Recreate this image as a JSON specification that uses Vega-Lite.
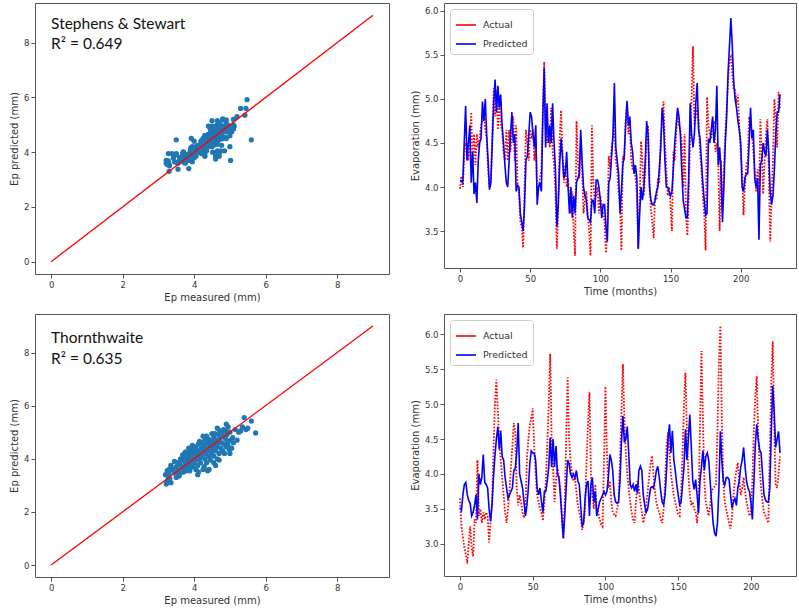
{
  "$schema": "https://vega.github.io/schema/vega-lite/v6.json",
  "padding": {"left": 9, "top": 2, "right": 2, "bottom": 2},
  "spacing": 10,
  "config": {
    "view": {"stroke": "#555", "strokeWidth": 1},
    "axis": {"grid": false, "domain": false, "tickColor": "#555", "tickSize": 4, "labelFont": "DejaVu Sans", "labelFontSize": 8.5, "labelColor": "#333", "labelPadding": 2, "titleFont": "DejaVu Sans", "titleFontSize": 10, "titleFontWeight": "normal", "titleColor": "#333", "titlePadding": 4, "labelFlush": false},
    "legend": {"labelFont": "DejaVu Sans", "labelFontSize": 9.5, "labelColor": "#333", "symbolType": "stroke", "symbolSize": 400, "symbolStrokeWidth": 1.6, "strokeColor": "#ccc", "fillColor": "white", "cornerRadius": 3, "padding": 5, "rowPadding": 3, "offset": 6, "labelOffset": 6}
  },
  "datasets": {
    "ss": [
{"m":0,"Actual":3.98,"Predicted":4.07},{"m":1,"Actual":4.12,"Predicted":4.07},{"m":2,"Actual":4.0,"Predicted":4.05},{"m":3,"Actual":4.35,"Predicted":4.5},{"m":4,"Actual":4.5,"Predicted":4.92},{"m":5,"Actual":4.45,"Predicted":4.3},{"m":6,"Actual":4.3,"Predicted":4.5},{"m":7,"Actual":4.5,"Predicted":4.7},{"m":8,"Actual":4.85,"Predicted":4.05},{"m":9,"Actual":4.2,"Predicted":4.4},
{"m":10,"Actual":4.6,"Predicted":3.92},{"m":11,"Actual":4.25,"Predicted":4.05},{"m":12,"Actual":4.6,"Predicted":3.82},{"m":13,"Actual":4.45,"Predicted":4.3},{"m":14,"Actual":4.55,"Predicted":4.5},{"m":15,"Actual":4.7,"Predicted":4.55},{"m":16,"Actual":4.75,"Predicted":4.97},{"m":17,"Actual":4.9,"Predicted":4.75},{"m":18,"Actual":4.65,"Predicted":5.0},{"m":19,"Actual":4.55,"Predicted":4.6},
{"m":20,"Actual":4.2,"Predicted":4.3},{"m":21,"Actual":4.0,"Predicted":3.97},{"m":22,"Actual":4.1,"Predicted":4.05},{"m":23,"Actual":4.6,"Predicted":4.5},{"m":24,"Actual":5.12,"Predicted":4.95},{"m":25,"Actual":4.8,"Predicted":5.22},{"m":26,"Actual":5.1,"Predicted":4.85},{"m":27,"Actual":4.65,"Predicted":5.15},{"m":28,"Actual":5.05,"Predicted":4.9},{"m":29,"Actual":4.7,"Predicted":5.05},
{"m":30,"Actual":4.65,"Predicted":4.7},{"m":31,"Actual":4.4,"Predicted":4.5},{"m":32,"Actual":4.3,"Predicted":4.25},{"m":33,"Actual":4.65,"Predicted":4.05},{"m":34,"Actual":4.3,"Predicted":4.0},{"m":35,"Actual":4.65,"Predicted":4.3},{"m":36,"Actual":4.4,"Predicted":4.6},{"m":37,"Actual":4.7,"Predicted":4.85},{"m":38,"Actual":4.8,"Predicted":4.5},{"m":39,"Actual":4.3,"Predicted":4.6},
{"m":40,"Actual":4.7,"Predicted":3.95},{"m":41,"Actual":4.0,"Predicted":4.02},{"m":42,"Actual":3.95,"Predicted":4.0},{"m":43,"Actual":3.6,"Predicted":3.7},{"m":44,"Actual":3.55,"Predicted":3.6},{"m":45,"Actual":3.31,"Predicted":3.5},{"m":46,"Actual":4.0,"Predicted":3.8},{"m":47,"Actual":4.65,"Predicted":4.3},{"m":48,"Actual":4.5,"Predicted":4.35},{"m":49,"Actual":4.3,"Predicted":4.6},
{"m":50,"Actual":4.65,"Predicted":4.85},{"m":51,"Actual":4.55,"Predicted":4.8},{"m":52,"Actual":4.65,"Predicted":4.6},{"m":53,"Actual":4.3,"Predicted":4.45},{"m":54,"Actual":4.5,"Predicted":4.7},{"m":55,"Actual":3.9,"Predicted":3.8},{"m":56,"Actual":4.0,"Predicted":4.0},{"m":57,"Actual":4.1,"Predicted":4.05},{"m":58,"Actual":4.2,"Predicted":3.95},{"m":59,"Actual":4.85,"Predicted":4.8},
{"m":60,"Actual":5.42,"Predicted":5.35},{"m":61,"Actual":4.7,"Predicted":4.45},{"m":62,"Actual":4.5,"Predicted":4.95},{"m":63,"Actual":4.65,"Predicted":4.5},{"m":64,"Actual":4.45,"Predicted":4.7},{"m":65,"Actual":4.9,"Predicted":4.5},{"m":66,"Actual":4.4,"Predicted":4.95},{"m":67,"Actual":4.25,"Predicted":4.5},{"m":68,"Actual":3.95,"Predicted":4.2},{"m":69,"Actual":3.3,"Predicted":3.55},
{"m":70,"Actual":3.75,"Predicted":3.8},{"m":71,"Actual":4.55,"Predicted":4.25},{"m":72,"Actual":4.87,"Predicted":4.55},{"m":73,"Actual":4.4,"Predicted":4.35},{"m":74,"Actual":4.05,"Predicted":4.1},{"m":75,"Actual":4.25,"Predicted":4.15},{"m":76,"Actual":4.0,"Predicted":4.4},{"m":77,"Actual":4.1,"Predicted":4.0},{"m":78,"Actual":3.8,"Predicted":3.7},{"m":79,"Actual":3.7,"Predicted":4.0},
{"m":80,"Actual":3.95,"Predicted":3.65},{"m":81,"Actual":3.5,"Predicted":3.9},{"m":82,"Actual":3.22,"Predicted":3.7},{"m":83,"Actual":4.75,"Predicted":4.05},{"m":84,"Actual":4.3,"Predicted":4.1},{"m":85,"Actual":4.1,"Predicted":4.15},{"m":86,"Actual":4.5,"Predicted":4.65},{"m":87,"Actual":4.2,"Predicted":4.3},{"m":88,"Actual":3.7,"Predicted":4.0},{"m":89,"Actual":3.85,"Predicted":3.9},
{"m":90,"Actual":3.95,"Predicted":3.85},{"m":91,"Actual":3.7,"Predicted":3.65},{"m":92,"Actual":3.5,"Predicted":3.63},{"m":93,"Actual":3.22,"Predicted":3.6},{"m":94,"Actual":4.7,"Predicted":3.85},{"m":95,"Actual":4.05,"Predicted":3.85},{"m":96,"Actual":3.85,"Predicted":3.7},{"m":97,"Actual":3.9,"Predicted":4.08},{"m":98,"Actual":4.0,"Predicted":4.08},{"m":99,"Actual":3.7,"Predicted":4.0},
{"m":100,"Actual":3.9,"Predicted":3.85},{"m":101,"Actual":3.75,"Predicted":3.65},{"m":102,"Actual":3.7,"Predicted":3.8},{"m":103,"Actual":3.6,"Predicted":3.8},{"m":104,"Actual":3.25,"Predicted":3.55},{"m":105,"Actual":3.55,"Predicted":3.38},{"m":106,"Actual":4.35,"Predicted":4.05},{"m":107,"Actual":4.2,"Predicted":4.1},{"m":108,"Actual":4.45,"Predicted":4.35},{"m":109,"Actual":4.55,"Predicted":4.6},
{"m":110,"Actual":4.8,"Predicted":5.18},{"m":111,"Actual":4.3,"Predicted":4.45},{"m":112,"Actual":4.2,"Predicted":4.3},{"m":113,"Actual":3.95,"Predicted":4.15},{"m":114,"Actual":3.85,"Predicted":3.7},{"m":115,"Actual":3.28,"Predicted":3.95},{"m":116,"Actual":4.35,"Predicted":4.25},{"m":117,"Actual":4.3,"Predicted":4.35},{"m":118,"Actual":4.75,"Predicted":4.7},{"m":119,"Actual":4.95,"Predicted":4.98},
{"m":120,"Actual":4.6,"Predicted":4.7},{"m":121,"Actual":4.75,"Predicted":4.8},{"m":122,"Actual":4.3,"Predicted":4.5},{"m":123,"Actual":4.2,"Predicted":4.4},{"m":124,"Actual":4.25,"Predicted":4.15},{"m":125,"Actual":4.1,"Predicted":4.25},{"m":126,"Actual":3.95,"Predicted":4.1},{"m":127,"Actual":3.3,"Predicted":3.3},{"m":128,"Actual":3.85,"Predicted":3.7},{"m":129,"Actual":4.52,"Predicted":4.0},
{"m":130,"Actual":4.3,"Predicted":3.85},{"m":131,"Actual":3.9,"Predicted":4.0},{"m":132,"Actual":4.2,"Predicted":4.3},{"m":133,"Actual":4.6,"Predicted":4.75},{"m":134,"Actual":4.7,"Predicted":4.6},{"m":135,"Actual":4.1,"Predicted":4.0},{"m":136,"Actual":3.75,"Predicted":3.85},{"m":137,"Actual":3.6,"Predicted":3.8},{"m":138,"Actual":3.42,"Predicted":3.8},{"m":139,"Actual":3.9,"Predicted":3.85},
{"m":140,"Actual":3.85,"Predicted":3.95},{"m":141,"Actual":4.1,"Predicted":4.0},{"m":142,"Actual":4.05,"Predicted":4.2},{"m":143,"Actual":4.55,"Predicted":4.45},{"m":144,"Actual":4.7,"Predicted":4.9},{"m":145,"Actual":4.97,"Predicted":4.75},{"m":146,"Actual":4.5,"Predicted":4.3},{"m":147,"Actual":4.2,"Predicted":4.0},{"m":148,"Actual":3.9,"Predicted":4.0},{"m":149,"Actual":4.0,"Predicted":3.95},
{"m":150,"Actual":3.8,"Predicted":3.9},{"m":151,"Actual":3.5,"Predicted":3.95},{"m":152,"Actual":4.4,"Predicted":4.2},{"m":153,"Actual":4.3,"Predicted":4.5},{"m":154,"Actual":4.6,"Predicted":4.7},{"m":155,"Actual":4.85,"Predicted":4.9},{"m":156,"Actual":4.7,"Predicted":4.8},{"m":157,"Actual":4.65,"Predicted":4.6},{"m":158,"Actual":4.5,"Predicted":4.2},{"m":159,"Actual":4.0,"Predicted":3.85},
{"m":160,"Actual":4.6,"Predicted":3.75},{"m":161,"Actual":3.7,"Predicted":3.65},{"m":162,"Actual":3.45,"Predicted":3.65},{"m":163,"Actual":3.9,"Predicted":4.15},{"m":164,"Actual":4.6,"Predicted":4.95},{"m":165,"Actual":5.0,"Predicted":4.6},{"m":166,"Actual":5.6,"Predicted":4.45},{"m":167,"Actual":4.7,"Predicted":4.6},{"m":168,"Actual":4.8,"Predicted":4.95},{"m":169,"Actual":4.9,"Predicted":5.18},
{"m":170,"Actual":4.75,"Predicted":4.65},{"m":171,"Actual":4.4,"Predicted":4.55},{"m":172,"Actual":4.2,"Predicted":4.3},{"m":173,"Actual":3.9,"Predicted":4.05},{"m":174,"Actual":3.7,"Predicted":3.85},{"m":175,"Actual":3.28,"Predicted":3.68},{"m":176,"Actual":5.02,"Predicted":3.7},{"m":177,"Actual":4.7,"Predicted":4.55},{"m":178,"Actual":4.6,"Predicted":4.5},{"m":179,"Actual":4.55,"Predicted":4.65},
{"m":180,"Actual":4.7,"Predicted":4.8},{"m":181,"Actual":4.75,"Predicted":4.5},{"m":182,"Actual":4.4,"Predicted":4.65},{"m":183,"Actual":4.5,"Predicted":5.15},{"m":184,"Actual":4.3,"Predicted":4.25},{"m":185,"Actual":3.5,"Predicted":4.45},{"m":186,"Actual":4.3,"Predicted":4.15},{"m":187,"Actual":3.75,"Predicted":3.6},{"m":188,"Actual":4.2,"Predicted":4.0},{"m":189,"Actual":4.6,"Predicted":4.5},
{"m":190,"Actual":4.9,"Predicted":4.8},{"m":191,"Actual":5.2,"Predicted":5.3},{"m":192,"Actual":5.45,"Predicted":5.6},{"m":193,"Actual":5.48,"Predicted":5.92},{"m":194,"Actual":5.3,"Predicted":5.6},{"m":195,"Actual":5.1,"Predicted":5.2},{"m":196,"Actual":5.1,"Predicted":5.0},{"m":197,"Actual":4.95,"Predicted":4.9},{"m":198,"Actual":5.05,"Predicted":4.75},{"m":199,"Actual":4.7,"Predicted":4.65},
{"m":200,"Actual":4.4,"Predicted":4.5},{"m":201,"Actual":4.2,"Predicted":4.0},{"m":202,"Actual":3.68,"Predicted":3.95},{"m":203,"Actual":4.0,"Predicted":4.1},{"m":204,"Actual":4.25,"Predicted":4.15},{"m":205,"Actual":4.3,"Predicted":4.15},{"m":206,"Actual":4.8,"Predicted":4.5},{"m":207,"Actual":4.7,"Predicted":4.9},{"m":208,"Actual":4.6,"Predicted":4.55},{"m":209,"Actual":4.4,"Predicted":4.65},
{"m":210,"Actual":4.2,"Predicted":4.1},{"m":211,"Actual":3.95,"Predicted":4.0},{"m":212,"Actual":4.2,"Predicted":4.1},{"m":213,"Actual":3.85,"Predicted":3.4},{"m":214,"Actual":4.77,"Predicted":4.25},{"m":215,"Actual":4.4,"Predicted":4.3},{"m":216,"Actual":3.92,"Predicted":4.5},{"m":217,"Actual":4.3,"Predicted":4.4},{"m":218,"Actual":4.6,"Predicted":4.35},{"m":219,"Actual":4.77,"Predicted":4.65},
{"m":220,"Actual":4.2,"Predicted":4.4},{"m":221,"Actual":3.38,"Predicted":3.95},{"m":222,"Actual":3.9,"Predicted":3.8},{"m":223,"Actual":4.3,"Predicted":3.9},{"m":224,"Actual":5.0,"Predicted":4.2},{"m":225,"Actual":4.75,"Predicted":4.6},{"m":226,"Actual":4.45,"Predicted":4.85},{"m":227,"Actual":5.08,"Predicted":4.85},{"m":228,"Actual":4.9,"Predicted":5.05}
    ],
    "th": [
{"m":0,"Actual":3.65,"Predicted":3.52},{"m":1,"Actual":3.25,"Predicted":3.48},{"m":2,"Actual":3.1,"Predicted":3.7},{"m":3,"Actual":2.95,"Predicted":3.85},{"m":4,"Actual":2.85,"Predicted":3.88},{"m":5,"Actual":2.72,"Predicted":3.7},{"m":6,"Actual":3.0,"Predicted":3.62},{"m":7,"Actual":3.25,"Predicted":3.58},{"m":8,"Actual":2.95,"Predicted":3.4},{"m":9,"Actual":2.82,"Predicted":3.45},
{"m":10,"Actual":3.35,"Predicted":3.55},{"m":11,"Actual":3.3,"Predicted":3.7},{"m":12,"Actual":4.2,"Predicted":3.35},{"m":13,"Actual":3.4,"Predicted":4.0},{"m":14,"Actual":3.5,"Predicted":3.85},{"m":15,"Actual":3.3,"Predicted":3.95},{"m":16,"Actual":3.45,"Predicted":4.28},{"m":17,"Actual":3.35,"Predicted":3.88},{"m":18,"Actual":3.45,"Predicted":3.85},{"m":19,"Actual":3.4,"Predicted":3.8},
{"m":20,"Actual":3.02,"Predicted":3.5},{"m":21,"Actual":3.3,"Predicted":3.32},{"m":22,"Actual":3.6,"Predicted":3.55},{"m":23,"Actual":4.3,"Predicted":3.95},{"m":24,"Actual":5.0,"Predicted":4.25},{"m":25,"Actual":5.35,"Predicted":4.5},{"m":26,"Actual":4.9,"Predicted":4.68},{"m":27,"Actual":4.5,"Predicted":4.35},{"m":28,"Actual":4.2,"Predicted":4.62},{"m":29,"Actual":3.95,"Predicted":4.25},
{"m":30,"Actual":3.7,"Predicted":4.2},{"m":31,"Actual":3.45,"Predicted":3.95},{"m":32,"Actual":3.3,"Predicted":3.8},{"m":33,"Actual":3.5,"Predicted":3.65},{"m":34,"Actual":3.75,"Predicted":3.7},{"m":35,"Actual":4.1,"Predicted":3.75},{"m":36,"Actual":4.4,"Predicted":3.8},{"m":37,"Actual":4.73,"Predicted":4.05},{"m":38,"Actual":4.6,"Predicted":4.08},{"m":39,"Actual":3.8,"Predicted":4.3},
{"m":40,"Actual":3.55,"Predicted":4.73},{"m":41,"Actual":3.7,"Predicted":4.0},{"m":42,"Actual":3.6,"Predicted":3.9},{"m":43,"Actual":3.45,"Predicted":3.8},{"m":44,"Actual":3.37,"Predicted":3.6},{"m":45,"Actual":3.5,"Predicted":3.4},{"m":46,"Actual":4.2,"Predicted":3.55},{"m":47,"Actual":4.5,"Predicted":3.8},{"m":48,"Actual":4.7,"Predicted":4.15},{"m":49,"Actual":4.8,"Predicted":4.33},
{"m":50,"Actual":4.94,"Predicted":4.3},{"m":51,"Actual":4.4,"Predicted":4.3},{"m":52,"Actual":4.0,"Predicted":4.2},{"m":53,"Actual":3.7,"Predicted":3.8},{"m":54,"Actual":3.6,"Predicted":3.7},{"m":55,"Actual":3.5,"Predicted":3.8},{"m":56,"Actual":3.45,"Predicted":3.6},{"m":57,"Actual":3.33,"Predicted":3.45},{"m":58,"Actual":3.6,"Predicted":3.75},{"m":59,"Actual":3.9,"Predicted":3.75},
{"m":60,"Actual":4.4,"Predicted":3.9},{"m":61,"Actual":5.0,"Predicted":4.1},{"m":62,"Actual":5.72,"Predicted":4.52},{"m":63,"Actual":4.5,"Predicted":4.1},{"m":64,"Actual":4.1,"Predicted":4.5},{"m":65,"Actual":3.6,"Predicted":4.1},{"m":66,"Actual":3.9,"Predicted":4.4},{"m":67,"Actual":4.1,"Predicted":4.0},{"m":68,"Actual":3.95,"Predicted":3.95},{"m":69,"Actual":3.8,"Predicted":3.7},
{"m":70,"Actual":3.4,"Predicted":3.4},{"m":71,"Actual":3.07,"Predicted":3.08},{"m":72,"Actual":3.6,"Predicted":3.4},{"m":73,"Actual":4.5,"Predicted":3.8},{"m":74,"Actual":5.38,"Predicted":4.2},{"m":75,"Actual":4.5,"Predicted":4.15},{"m":76,"Actual":4.2,"Predicted":4.0},{"m":77,"Actual":4.0,"Predicted":3.95},{"m":78,"Actual":3.9,"Predicted":4.0},{"m":79,"Actual":3.95,"Predicted":3.95},
{"m":80,"Actual":3.75,"Predicted":4.05},{"m":81,"Actual":3.55,"Predicted":3.9},{"m":82,"Actual":3.45,"Predicted":3.85},{"m":83,"Actual":3.35,"Predicted":3.55},{"m":84,"Actual":3.2,"Predicted":3.25},{"m":85,"Actual":3.3,"Predicted":3.3},{"m":86,"Actual":3.5,"Predicted":3.65},{"m":87,"Actual":4.2,"Predicted":3.85},{"m":88,"Actual":4.7,"Predicted":3.9},{"m":89,"Actual":5.17,"Predicted":3.4},
{"m":90,"Actual":4.0,"Predicted":3.85},{"m":91,"Actual":3.7,"Predicted":3.95},{"m":92,"Actual":3.5,"Predicted":3.6},{"m":93,"Actual":3.85,"Predicted":3.75},{"m":94,"Actual":3.5,"Predicted":3.4},{"m":95,"Actual":3.45,"Predicted":3.5},{"m":96,"Actual":3.35,"Predicted":3.6},{"m":97,"Actual":3.28,"Predicted":3.65},{"m":98,"Actual":3.25,"Predicted":3.7},{"m":99,"Actual":4.2,"Predicted":3.75},
{"m":100,"Actual":5.25,"Predicted":3.7},{"m":101,"Actual":4.3,"Predicted":3.75},{"m":102,"Actual":3.8,"Predicted":3.95},{"m":103,"Actual":3.9,"Predicted":4.28},{"m":104,"Actual":3.6,"Predicted":4.2},{"m":105,"Actual":3.45,"Predicted":4.05},{"m":106,"Actual":3.42,"Predicted":3.7},{"m":107,"Actual":3.4,"Predicted":3.6},{"m":108,"Actual":3.5,"Predicted":3.58},{"m":109,"Actual":3.6,"Predicted":3.6},
{"m":110,"Actual":4.2,"Predicted":3.9},{"m":111,"Actual":4.9,"Predicted":4.45},{"m":112,"Actual":5.57,"Predicted":4.83},{"m":113,"Actual":4.8,"Predicted":4.45},{"m":114,"Actual":4.3,"Predicted":4.5},{"m":115,"Actual":4.0,"Predicted":4.68},{"m":116,"Actual":3.8,"Predicted":4.3},{"m":117,"Actual":3.6,"Predicted":3.85},{"m":118,"Actual":3.45,"Predicted":3.8},{"m":119,"Actual":3.35,"Predicted":3.85},
{"m":120,"Actual":3.3,"Predicted":3.75},{"m":121,"Actual":3.6,"Predicted":3.85},{"m":122,"Actual":3.9,"Predicted":3.72},{"m":123,"Actual":3.8,"Predicted":4.05},{"m":124,"Actual":3.6,"Predicted":4.11},{"m":125,"Actual":3.45,"Predicted":4.05},{"m":126,"Actual":3.3,"Predicted":3.7},{"m":127,"Actual":3.4,"Predicted":3.55},{"m":128,"Actual":3.55,"Predicted":3.45},{"m":129,"Actual":3.75,"Predicted":3.5},
{"m":130,"Actual":3.95,"Predicted":3.65},{"m":131,"Actual":4.15,"Predicted":3.8},{"m":132,"Actual":4.26,"Predicted":3.82},{"m":133,"Actual":4.0,"Predicted":3.8},{"m":134,"Actual":3.75,"Predicted":3.9},{"m":135,"Actual":3.6,"Predicted":4.05},{"m":136,"Actual":3.5,"Predicted":4.11},{"m":137,"Actual":3.45,"Predicted":3.95},{"m":138,"Actual":3.35,"Predicted":3.75},{"m":139,"Actual":3.3,"Predicted":3.6},
{"m":140,"Actual":3.5,"Predicted":3.56},{"m":141,"Actual":3.9,"Predicted":3.7},{"m":142,"Actual":4.4,"Predicted":4.05},{"m":143,"Actual":4.6,"Predicted":4.5},{"m":144,"Actual":4.3,"Predicted":4.71},{"m":145,"Actual":4.0,"Predicted":4.3},{"m":146,"Actual":3.85,"Predicted":4.62},{"m":147,"Actual":3.7,"Predicted":4.2},{"m":148,"Actual":3.6,"Predicted":4.05},{"m":149,"Actual":3.5,"Predicted":3.85},
{"m":150,"Actual":3.42,"Predicted":3.7},{"m":151,"Actual":3.4,"Predicted":3.56},{"m":152,"Actual":3.7,"Predicted":3.6},{"m":153,"Actual":4.3,"Predicted":3.85},{"m":154,"Actual":5.0,"Predicted":4.1},{"m":155,"Actual":5.45,"Predicted":4.64},{"m":156,"Actual":4.6,"Predicted":4.2},{"m":157,"Actual":4.0,"Predicted":4.5},{"m":158,"Actual":3.7,"Predicted":4.85},{"m":159,"Actual":3.55,"Predicted":4.4},
{"m":160,"Actual":3.6,"Predicted":3.9},{"m":161,"Actual":3.5,"Predicted":3.78},{"m":162,"Actual":3.45,"Predicted":3.92},{"m":163,"Actual":3.3,"Predicted":3.7},{"m":164,"Actual":3.6,"Predicted":3.44},{"m":165,"Actual":4.7,"Predicted":3.9},{"m":166,"Actual":5.76,"Predicted":4.1},{"m":167,"Actual":4.8,"Predicted":4.33},{"m":168,"Actual":3.9,"Predicted":4.05},{"m":169,"Actual":3.6,"Predicted":4.25},
{"m":170,"Actual":3.5,"Predicted":4.3},{"m":171,"Actual":3.4,"Predicted":4.2},{"m":172,"Actual":3.55,"Predicted":3.89},{"m":173,"Actual":3.75,"Predicted":3.6},{"m":174,"Actual":3.8,"Predicted":3.3},{"m":175,"Actual":3.82,"Predicted":3.16},{"m":176,"Actual":3.85,"Predicted":3.11},{"m":177,"Actual":4.6,"Predicted":3.3},{"m":178,"Actual":5.6,"Predicted":3.8},{"m":179,"Actual":6.12,"Predicted":4.61},
{"m":180,"Actual":4.8,"Predicted":4.2},{"m":181,"Actual":3.9,"Predicted":3.9},{"m":182,"Actual":3.6,"Predicted":3.84},{"m":183,"Actual":3.5,"Predicted":3.95},{"m":184,"Actual":3.4,"Predicted":3.95},{"m":185,"Actual":3.3,"Predicted":3.92},{"m":186,"Actual":3.22,"Predicted":3.7},{"m":187,"Actual":3.4,"Predicted":3.51},{"m":188,"Actual":3.7,"Predicted":3.6},{"m":189,"Actual":3.9,"Predicted":3.65},
{"m":190,"Actual":4.05,"Predicted":3.55},{"m":191,"Actual":4.16,"Predicted":3.8},{"m":192,"Actual":3.9,"Predicted":3.9},{"m":193,"Actual":3.7,"Predicted":4.1},{"m":194,"Actual":3.8,"Predicted":4.2},{"m":195,"Actual":3.95,"Predicted":4.38},{"m":196,"Actual":3.75,"Predicted":4.1},{"m":197,"Actual":3.6,"Predicted":3.9},{"m":198,"Actual":3.5,"Predicted":3.8},{"m":199,"Actual":3.4,"Predicted":3.75},
{"m":200,"Actual":3.45,"Predicted":3.6},{"m":201,"Actual":3.9,"Predicted":3.35},{"m":202,"Actual":4.6,"Predicted":3.85},{"m":203,"Actual":5.1,"Predicted":4.4},{"m":204,"Actual":5.4,"Predicted":4.71},{"m":205,"Actual":4.6,"Predicted":4.5},{"m":206,"Actual":4.1,"Predicted":4.35},{"m":207,"Actual":3.8,"Predicted":4.3},{"m":208,"Actual":3.6,"Predicted":4.0},{"m":209,"Actual":3.45,"Predicted":3.7},
{"m":210,"Actual":3.4,"Predicted":3.63},{"m":211,"Actual":3.35,"Predicted":3.6},{"m":212,"Actual":3.3,"Predicted":3.6},{"m":213,"Actual":4.3,"Predicted":3.8},{"m":214,"Actual":5.3,"Predicted":4.6},{"m":215,"Actual":5.9,"Predicted":5.26},{"m":216,"Actual":4.7,"Predicted":4.9},{"m":217,"Actual":3.85,"Predicted":4.38},{"m":218,"Actual":3.8,"Predicted":4.5},{"m":219,"Actual":4.0,"Predicted":4.61},
{"m":220,"Actual":4.25,"Predicted":4.3}
    ],
    "thsc": [
{"x":3.22,"y":3.05},{"x":3.25,"y":3.15},{"x":3.2,"y":3.4},{"x":3.25,"y":3.55},{"x":3.3,"y":3.45},{"x":3.28,"y":3.3},{"x":3.35,"y":3.1},{"x":3.4,"y":3.6},{"x":3.45,"y":3.5},{"x":3.35,"y":3.75},
{"x":3.5,"y":3.3},{"x":3.5,"y":3.7},{"x":3.55,"y":3.55},{"x":3.6,"y":3.8},{"x":3.6,"y":3.45},{"x":3.65,"y":3.65},{"x":3.65,"y":3.95},{"x":3.7,"y":3.7},{"x":3.7,"y":3.5},{"x":3.72,"y":4.05},
{"x":3.75,"y":3.85},{"x":3.75,"y":3.6},{"x":3.8,"y":4.0},{"x":3.8,"y":3.75},{"x":3.82,"y":4.2},{"x":3.85,"y":3.9},{"x":3.85,"y":3.65},{"x":3.88,"y":4.1},{"x":3.9,"y":3.8},{"x":3.9,"y":4.3},
{"x":3.92,"y":3.95},{"x":3.95,"y":4.15},{"x":3.95,"y":3.7},{"x":3.98,"y":4.35},{"x":4.0,"y":4.0},{"x":4.0,"y":3.85},{"x":4.02,"y":4.25},{"x":4.05,"y":4.45},{"x":4.05,"y":3.95},{"x":4.08,"y":4.1},
{"x":4.1,"y":3.4},{"x":4.1,"y":3.75},{"x":4.1,"y":4.3},{"x":4.12,"y":4.55},{"x":4.15,"y":4.0},{"x":4.15,"y":4.2},{"x":4.18,"y":3.85},{"x":4.2,"y":4.4},{"x":4.2,"y":4.6},{"x":4.22,"y":4.1},
{"x":4.25,"y":3.6},{"x":4.25,"y":4.3},{"x":4.28,"y":4.5},{"x":4.3,"y":4.0},{"x":4.3,"y":4.7},{"x":4.32,"y":4.2},{"x":4.35,"y":4.4},{"x":4.35,"y":3.85},{"x":4.38,"y":4.6},{"x":4.4,"y":4.1},
{"x":4.4,"y":4.75},{"x":4.42,"y":4.3},{"x":4.45,"y":3.95},{"x":4.45,"y":4.5},{"x":4.48,"y":4.25},{"x":4.5,"y":4.65},{"x":4.5,"y":4.95},{"x":4.52,"y":4.4},{"x":4.55,"y":4.1},{"x":4.55,"y":4.8},
{"x":4.58,"y":4.55},{"x":4.6,"y":4.3},{"x":4.6,"y":3.75},{"x":4.62,"y":4.7},{"x":4.65,"y":4.45},{"x":4.65,"y":5.15},{"x":4.68,"y":4.9},{"x":4.7,"y":4.2},{"x":4.7,"y":4.6},{"x":4.72,"y":4.75},
{"x":4.75,"y":4.4},{"x":4.75,"y":5.0},{"x":4.78,"y":4.6},{"x":4.8,"y":4.85},{"x":4.8,"y":4.3},{"x":4.82,"y":5.1},{"x":4.85,"y":4.55},{"x":4.88,"y":4.75},{"x":4.9,"y":5.3},{"x":4.9,"y":4.45},
{"x":4.92,"y":4.9},{"x":4.95,"y":4.65},{"x":4.95,"y":5.2},{"x":4.98,"y":4.35},{"x":5.0,"y":5.0},{"x":5.05,"y":4.4},{"x":5.08,"y":4.8},{"x":5.1,"y":4.6},{"x":5.15,"y":5.1},{"x":5.2,"y":4.7},
{"x":5.25,"y":5.0},{"x":5.3,"y":5.05},{"x":5.35,"y":5.2},{"x":5.4,"y":5.55},{"x":5.45,"y":5.1},{"x":5.5,"y":5.15},{"x":5.6,"y":5.42},{"x":5.72,"y":4.97},
{"x":3.55,"y":3.85},{"x":3.68,"y":4.15},{"x":3.78,"y":3.55},{"x":3.95,"y":4.5},{"x":4.0,"y":4.4},{"x":4.05,"y":3.6},{"x":4.15,"y":4.65},{"x":4.28,"y":3.7},{"x":4.35,"y":4.85},{"x":4.42,"y":3.6},
{"x":4.5,"y":4.15},{"x":4.58,"y":4.95},{"x":4.65,"y":4.0},{"x":4.72,"y":5.05},{"x":4.85,"y":4.2},{"x":4.95,"y":4.5},{"x":5.0,"y":4.2},{"x":3.3,"y":3.6},{"x":3.45,"y":3.9},{"x":3.58,"y":3.35},
{"x":3.85,"y":4.4},{"x":4.25,"y":4.85},{"x":4.45,"y":4.55},{"x":4.62,"y":4.5},{"x":4.78,"y":4.95},{"x":4.88,"y":5.05},{"x":5.02,"y":4.7},{"x":3.32,"y":3.25},{"x":3.48,"y":3.45},{"x":3.62,"y":4.0},
{"x":3.75,"y":4.25},{"x":3.88,"y":3.55},{"x":4.12,"y":3.5},{"x":4.38,"y":3.55},{"x":4.55,"y":3.85},{"x":4.7,"y":3.95}
    ],
    "diag": [{"v":0},{"v":9}]
  },
  "vconcat": [
    {
      "spacing": 19,
      "resolve": {"scale": {"color": "independent"}, "legend": {"color": "independent"}},
      "hconcat": [
        {
          "width": 354, "height": 271,
          "layer": [
            {"data": {"name": "ss"}, "mark": {"type": "circle", "size": 28, "opacity": 1, "color": "#1f77b4"},
             "encoding": {
               "x": {"field": "Actual", "type": "quantitative", "scale": {"domain": [-0.45, 9.45], "nice": false, "zero": false}, "axis": {"values": [0, 2, 4, 6, 8], "title": "Ep measured (mm)"}},
               "y": {"field": "Predicted", "type": "quantitative", "scale": {"domain": [-0.45, 9.45], "nice": false, "zero": false}, "axis": {"values": [0, 2, 4, 6, 8], "title": "Ep predicted (mm)"}}}},
            {"data": {"name": "diag"}, "mark": {"type": "line", "color": "#ff0000", "strokeWidth": 1.3},
             "encoding": {"x": {"field": "v", "type": "quantitative", "title": "Ep measured (mm)"}, "y": {"field": "v", "type": "quantitative", "title": "Ep predicted (mm)"}}},
            {"data": {"values": [{"x": 0.0, "y": 8.5, "t": "Stephens & Stewart"}, {"x": 0.0, "y": 7.77, "t": "R² = 0.649"}]},
             "mark": {"type": "text", "align": "left", "baseline": "alphabetic", "font": "Lato", "fontSize": 15.5, "color": "#111"},
             "encoding": {"x": {"field": "x", "type": "quantitative", "title": "Ep measured (mm)"}, "y": {"field": "y", "type": "quantitative", "title": "Ep predicted (mm)"}, "text": {"field": "t"}}}
          ]
        },
        {
          "width": 352, "height": 265,
          "data": {"name": "ss"},
          "encoding": {
            "x": {"field": "m", "type": "quantitative", "scale": {"domain": [-11.4, 239.4], "nice": false, "zero": false}, "axis": {"values": [0, 50, 100, 150, 200], "title": "Time (months)"}}
          },
          "layer": [
            {"mark": {"type": "line", "strokeWidth": 1.8, "strokeDash": [1.6, 1.6]},
             "encoding": {
               "y": {"field": "Actual", "type": "quantitative", "scale": {"domain": [3.08, 6.09], "nice": false, "zero": false}, "axis": {"values": [3.5, 4.0, 4.5, 5.0, 5.5, 6.0], "format": ".1f", "title": "Evaporation (mm)"}},
               "color": {"datum": "Actual", "scale": {"domain": ["Actual", "Predicted"], "range": ["#ff0000", "#0000ff"]}, "legend": {"title": null, "orient": "top-left"}}}},
            {"mark": {"type": "line", "strokeWidth": 1.6},
             "encoding": {
               "y": {"field": "Predicted", "type": "quantitative", "title": "Evaporation (mm)"},
               "color": {"datum": "Predicted"}}}
          ]
        }
      ]
    },
    {
      "spacing": 19,
      "resolve": {"scale": {"color": "independent"}, "legend": {"color": "independent"}},
      "hconcat": [
        {
          "width": 354, "height": 263,
          "layer": [
            {"data": {"name": "thsc"}, "mark": {"type": "circle", "size": 28, "opacity": 1, "color": "#1f77b4"},
             "encoding": {
               "x": {"field": "x", "type": "quantitative", "scale": {"domain": [-0.45, 9.45], "nice": false, "zero": false}, "axis": {"values": [0, 2, 4, 6, 8], "title": "Ep measured (mm)"}},
               "y": {"field": "y", "type": "quantitative", "scale": {"domain": [-0.45, 9.45], "nice": false, "zero": false}, "axis": {"values": [0, 2, 4, 6, 8], "title": "Ep predicted (mm)"}}}},
            {"data": {"name": "diag"}, "mark": {"type": "line", "color": "#ff0000", "strokeWidth": 1.3},
             "encoding": {"x": {"field": "v", "type": "quantitative", "title": "Ep measured (mm)"}, "y": {"field": "v", "type": "quantitative", "title": "Ep predicted (mm)"}}},
            {"data": {"values": [{"x": 0.0, "y": 8.36, "t": "Thornthwaite"}, {"x": 0.0, "y": 7.56, "t": "R² = 0.635"}]},
             "mark": {"type": "text", "align": "left", "baseline": "alphabetic", "font": "Lato", "fontSize": 15.5, "color": "#111"},
             "encoding": {"x": {"field": "x", "type": "quantitative", "title": "Ep measured (mm)"}, "y": {"field": "y", "type": "quantitative", "title": "Ep predicted (mm)"}, "text": {"field": "t"}}}
          ]
        },
        {
          "width": 352, "height": 262,
          "data": {"name": "th"},
          "encoding": {
            "x": {"field": "m", "type": "quantitative", "scale": {"domain": [-11, 231], "nice": false, "zero": false}, "axis": {"values": [0, 50, 100, 150, 200], "title": "Time (months)"}}
          },
          "layer": [
            {"mark": {"type": "line", "strokeWidth": 1.8, "strokeDash": [1.6, 1.6]},
             "encoding": {
               "y": {"field": "Actual", "type": "quantitative", "scale": {"domain": [2.54, 6.29], "nice": false, "zero": false}, "axis": {"values": [3.0, 3.5, 4.0, 4.5, 5.0, 5.5, 6.0], "format": ".1f", "title": "Evaporation (mm)"}},
               "color": {"datum": "Actual", "scale": {"domain": ["Actual", "Predicted"], "range": ["#ff0000", "#0000ff"]}, "legend": {"title": null, "orient": "top-left"}}}},
            {"mark": {"type": "line", "strokeWidth": 1.6},
             "encoding": {
               "y": {"field": "Predicted", "type": "quantitative", "title": "Evaporation (mm)"},
               "color": {"datum": "Predicted"}}}
          ]
        }
      ]
    }
  ],
  "resolve": {"scale": {"color": "independent"}, "legend": {"color": "independent"}}
}
